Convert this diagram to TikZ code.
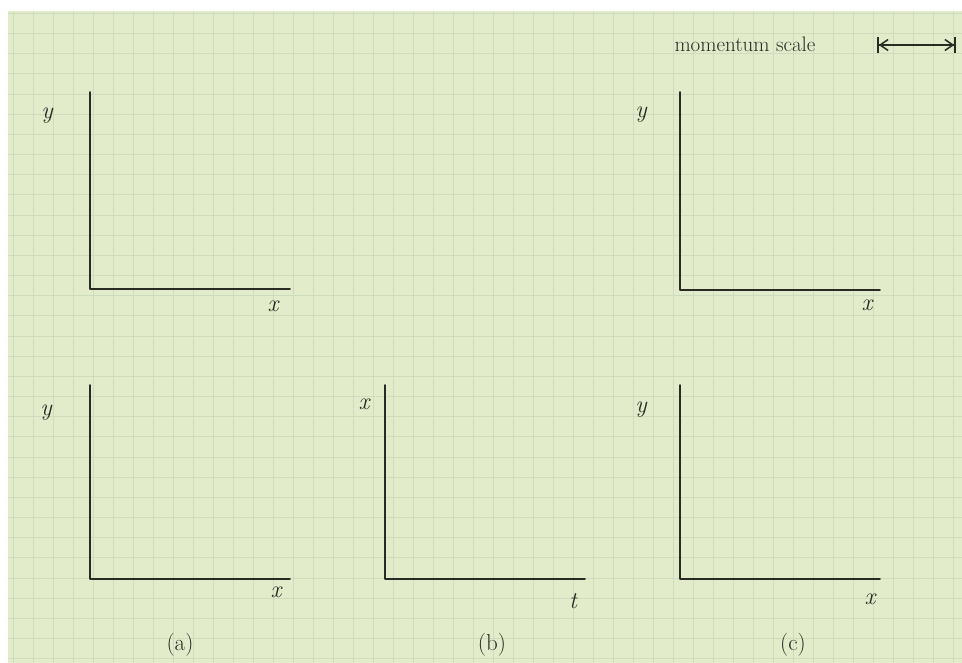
\documentclass[tikz,border=0pt]{standalone}
\usetikzlibrary{arrows.meta}
\definecolor{paper}{RGB}{226,236,203}
\definecolor{gridc}{RGB}{204,220,188}
\definecolor{ink}{RGB}{40,42,36}
\begin{document}
\begin{tikzpicture}[x=1pt,y=-1pt,
  axis/.style={draw=ink,line width=1.6pt,line cap=round,line join=round},
  lab/.style={text=ink,inner sep=0pt,font=\fontsize{24}{28}\selectfont\itshape},
  captext/.style={text=ink,inner sep=0pt,font=\fontsize{23}{27}\selectfont},
  gridline/.style={draw=gridc,line width=0.8pt}]
\useasboundingbox (0,0) rectangle (962,663);
\fill[white] (0,0) rectangle (962,663);
\fill[paper] (8,11) rectangle (962,663);
\foreach \i in {0,...,47} \draw[gridline] ({13.3+20*\i},11) -- ({13.3+20*\i},663);
\foreach \j in {0,...,32} \draw[gridline] (8,{13.3+20.17*\j}) -- (962,{13.3+20.17*\j});
% axes
\coordinate (oA1) at (90,289);
\coordinate (oA2) at (90,579);
\coordinate (oB) at (385,579);
\coordinate (oC1) at (680,290);
\coordinate (oC2) at (680,579);
\draw[axis] (90,92) -- (oA1) -- (290,289);
\draw[axis] (90,385) -- (oA2) -- (290,579);
\draw[axis] (385,385) -- (oB) -- (585,579);
\draw[axis] (680,92) -- (oC1) -- (880,290);
\draw[axis] (680,385) -- (oC2) -- (880,579);
% axis labels
\node[lab] (yA1) at (47,116) {y};
\node[lab] (xA1) at (273,306) {x};
\node[lab] (yA2) at (46,413) {y};
\node[lab] (xA2) at (276,592) {x};
\node[lab] (xB) at (364,404) {x};
\node[lab] (tB) at (573,601) {t};
\node[lab] (yC1) at (641,115) {y};
\node[lab] (xC1) at (867,305) {x};
\node[lab] (yC2) at (641,410) {y};
\node[lab] (xC2) at (870,599) {x};
% captions
\node[captext] (ca) at (180,645) {(a)};
\node[captext] (cb) at (492,645) {(b)};
\node[captext] (cc) at (793,645) {(c)};
% momentum scale
\node[captext,font=\fontsize{21}{25}\selectfont] (ms) at (745,44) {momentum scale};
\coordinate (msL) at (877,45);
\coordinate (msR) at (956,45);
\draw[draw=ink,line width=1.2pt,{Bar[width=16pt,line width=1.8pt]Straight Barb[length=8pt,width=11pt,line width=1.5pt]}-{Straight Barb[length=8pt,width=11pt,line width=1.5pt]Bar[width=16pt,line width=1.8pt]}] (msL) -- (msR);
\end{tikzpicture}
\end{document}
